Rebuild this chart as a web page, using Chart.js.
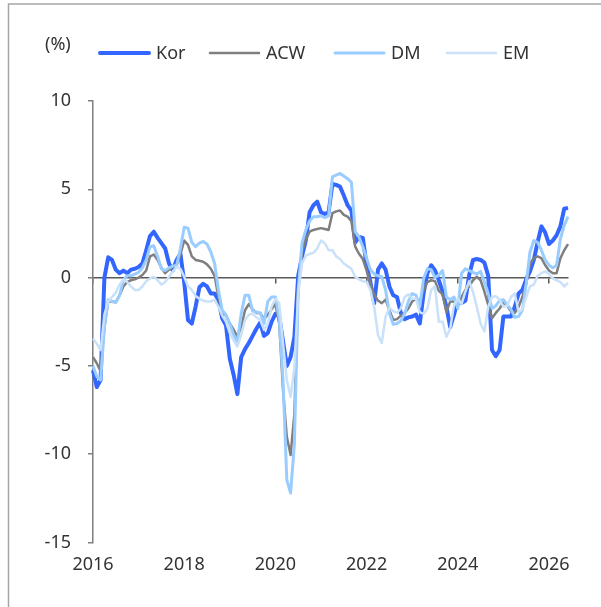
<!DOCTYPE html>
<html>
<head>
<meta charset="utf-8">
<script src="https://cdn.jsdelivr.net/npm/chart.js@4.4.0/dist/chart.umd.min.js"></script>
<style>
  html, body { margin: 0; padding: 0; background: #fff; }
  #wrap { position: relative; width: 601px; height: 607px; }
</style>
</head>
<body>
<div id="wrap"><canvas id="chart"></canvas></div>
<script>
// monthly values, Jan 2016 - Jun 2026 (%)
const kor = [
  -5.25, -6.2, -5.8, 0.0, 1.15, 1.0, 0.45, 0.25, 0.4, 0.25, 0.45, 0.5,
  0.6, 0.8, 1.55, 2.35, 2.6, 2.25, 1.95, 1.65, 0.8, 0.4, 1.0, 1.35,
  -0.25, -2.4, -2.6, -1.65, -0.55, -0.35, -0.5, -0.9, -0.9, -1.27, -2.3, -2.7,
  -4.6, -5.5, -6.6, -4.5, -4.05, -3.7, -3.3, -2.9, -2.55, -3.3, -3.15, -2.5,
  -2.05, -2.2, -3.6, -5.0, -4.5, -3.35, 0.1, 1.2, 2.1, 3.7, 4.1, 4.3,
  3.7, 3.6, 3.7, 5.3, 5.25, 5.15, 4.65, 4.1, 3.8, 2.0, 2.3, 2.25,
  0.7, -0.25, -1.45, 0.45, 0.8, 0.45, -0.5, -1.0, -1.1, -2.0, -2.35, -2.25,
  -2.2, -2.1, -2.6, -0.9, 0.25, 0.7, 0.4, -0.15, -0.8, -1.65, -2.8, -2.1,
  -1.3, -1.45, -1.3, 0.15, 1.0, 1.05, 1.0, 0.85, 0.1, -4.1, -4.45, -4.1,
  -2.2, -2.2, -2.2, -1.65, -0.9, -0.7, -0.1, 0.35, 1.0, 2.0, 2.9, 2.55,
  1.9, 2.1, 2.4, 2.9, 3.9, 3.95
];
const acw = [
  -4.5, -4.85, -5.3, -2.8, -1.35, -1.35, -1.4, -1.0, -0.5, -0.25, -0.15, -0.1,
  0.0, 0.15, 0.4, 1.2, 1.3, 1.0, 0.55, 0.25, 0.45, 0.6, 0.7, 1.3,
  2.1, 1.85, 1.2, 1.0, 0.95, 0.9, 0.75, 0.5, 0.1, -1.1, -1.95, -2.15,
  -2.6, -2.95, -3.35, -2.8, -1.85, -1.5, -1.8, -2.0, -2.0, -2.35, -2.1, -1.8,
  -1.5, -2.6, -6.35, -9.0, -10.05, -7.7, -0.7, 1.45, 2.15, 2.6, 2.7, 2.75,
  2.8, 2.75, 2.7, 3.65, 3.75, 3.8, 3.55, 3.45, 3.2, 1.75, 1.35, 1.05,
  0.4, -0.35, -0.95, -1.3, -1.45, -1.25, -1.85, -2.4, -2.35, -2.15, -2.0, -1.75,
  -1.35, -1.2, -1.35, -0.7, -0.25, -0.15, -0.2, -0.75, -0.95, -1.95, -1.35, -1.35,
  -1.65, -1.1, -0.7, -0.5, -0.15, 0.05, -0.15, -0.8, -1.55, -2.3, -2.0, -1.75,
  -1.4, -1.6, -1.9, -2.0, -1.65, -1.1, -0.35, 0.8, 1.1, 1.2, 1.1, 0.7,
  0.4, 0.25, 0.25, 1.1, 1.55, 1.9
];
const dm = [
  -5.0, -5.6, -5.8, -2.8, -1.25, -1.35, -1.4, -1.0, -0.15, 0.1, 0.1, 0.2,
  0.3, 0.55, 1.0, 1.75, 1.8, 1.2, 0.5, 0.4, 0.55, 0.65, 0.7, 1.65,
  2.85, 2.8, 2.0, 1.75, 1.95, 2.05, 1.9, 1.45, 0.8, -0.7, -1.85, -2.1,
  -2.6, -3.25, -3.65, -2.05, -1.0, -1.0, -1.9, -1.95, -2.0, -2.6, -1.35, -1.1,
  -1.1, -2.3, -5.8, -11.45, -12.2, -9.4, -0.7, 1.95, 2.7, 3.2, 3.45, 3.45,
  3.5, 3.4, 3.5, 5.7, 5.8, 5.9, 5.75, 5.6, 5.4, 2.6, 2.3, 1.75,
  1.1, 0.45, 0.2, 0.1, 0.05, -0.7, -2.0, -2.65, -2.6, -2.45, -2.05, -1.35,
  -0.9, -1.0, -1.65, -0.05, 0.5, 0.45, 0.0, 0.15, 0.4, -1.1, -1.25, -1.1,
  -1.75, 0.25, 0.5, 0.4, 0.3, 0.2, 0.35, -0.25, -0.9, -1.75, -1.6, -1.3,
  -1.25, -1.55, -1.8, -2.25, -2.2, -1.85, -0.35, 1.45, 2.1, 2.0, 1.55, 1.0,
  0.7, 0.55, 0.7, 2.2, 2.95, 3.45
];
const em = [
  -3.45, -3.75, -4.1, -2.1, -1.35, -1.1, -0.85, -0.4, -0.1, -0.25, -0.5, -0.7,
  -0.7, -0.5, -0.2, -0.05, 0.05, -0.15, -0.4, -0.25, 0.05, 0.35, 0.6, 0.5,
  0.05, -0.5, -0.7, -1.05, -1.2, -1.3, -1.35, -1.35, -1.25, -1.65, -2.15, -2.5,
  -3.15, -3.55, -3.9, -3.25, -2.4, -2.1, -2.05, -2.25, -2.4, -2.95, -2.6, -1.65,
  -1.2, -1.45, -3.7, -5.8, -6.75, -5.05, -0.9, 0.8, 1.25, 1.35, 1.4, 1.65,
  2.1, 1.95, 1.55, 1.55, 1.2, 1.05, 0.8, 0.65, 0.5, 0.05, -0.1, -0.2,
  -0.25, -0.7, -1.65, -3.25, -3.7, -2.2, -1.7, -1.9, -2.0, -1.75, -1.1, -0.95,
  -1.2, -1.2, -1.95, -2.05, -1.75, -0.7, -0.5, -2.5, -2.5, -3.35, -2.9, -1.55,
  -1.2, -1.5, -0.8, -0.2, -0.8, -1.65, -2.6, -3.05, -1.65, -1.1, -1.05, -1.25,
  -1.65, -1.6, -1.1, -0.9, -1.95, -1.8, -1.1, -0.5, -0.4, 0.1, 0.25, 0.35,
  0.2, -0.05, -0.15, -0.25, -0.5, -0.3
];
const startYear = 2016;
const yearTicks = ['2016', '2018', '2020', '2022', '2024', '2026'];
const seriesNames = ['Kor', 'ACW', 'DM', 'EM'];

// month categories 'YYYY-MM'
const labels = kor.map((v, i) =>
  (startYear + Math.floor(i / 12)) + '-' + String(i % 12 + 1).padStart(2, '0'));

function yearLabel(i) {
  const [yr, mo] = labels[i].split('-');
  return (mo === '01' && yearTicks.includes(yr)) ? yr : '';
}

const font = { family: "'Noto Sans', 'DejaVu Sans', sans-serif", size: 18 };
const textColor = '#333333';
const legendX = [99, 209, 334, 446];

// frame, unit label and legend drawn by hand
const decor = {
  id: 'decor',
  afterDraw(chart) {
    const ctx = chart.ctx;
    ctx.save();
    ctx.strokeStyle = '#a6a6a6';
    ctx.lineWidth = 1.5;
    ctx.beginPath();
    ctx.moveTo(8.5, 607);
    ctx.lineTo(8.5, 4);
    ctx.lineTo(601, 4);
    ctx.stroke();

    ctx.font = font.size + 'px ' + font.family;
    ctx.fillStyle = textColor;
    ctx.textBaseline = 'middle';
    ctx.fillText('(%)', 45, 45);

    ctx.lineCap = 'round';
    chart.data.datasets.forEach((ds, i) => {
      const x = legendX[i];
      ctx.strokeStyle = ds.borderColor;
      ctx.lineWidth = ds.borderWidth;
      ctx.beginPath();
      ctx.moveTo(x + 1, 53);
      ctx.lineTo(x + 50, 53);
      ctx.stroke();
      ctx.fillText(ds.label, x + 57, 54);
    });
    ctx.restore();
  }
};

function line(label, data, color, width, order) {
  return {
    label: label,
    data: data,
    borderColor: color,
    backgroundColor: color,
    borderWidth: width,
    pointRadius: 0,
    tension: 0,
    borderJoinStyle: 'round',
    order: order
  };
}

const chart = new Chart(document.getElementById('chart'), {
  type: 'line',
  data: {
    labels: labels,
    datasets: [
      line(seriesNames[0], kor, '#3366ff', 4, 4),
      line(seriesNames[1], acw, '#7f7f7f', 2.5, 3),
      line(seriesNames[2], dm, '#99ccff', 3, 2),
      line(seriesNames[3], em, '#c9e1f9', 2.5, 1)
    ]
  },
  options: {
    responsive: true,
    maintainAspectRatio: false,
    animation: false,
    layout: { padding: { left: 40, top: 90, right: 33, bottom: 30 } },
    plugins: {
      legend: { display: false },
      tooltip: { enabled: false }
    },
    scales: {
      x: {
        type: 'category',
        position: 'bottom',
        grid: { display: false, drawTicks: false },
        border: { display: false },
        ticks: {
          autoSkip: false,
          maxRotation: 0,
          color: textColor,
          font: font,
          padding: 12,
          callback: (v, i) => yearLabel(i)
        }
      },
      x0: {
        type: 'category',
        position: { y: 0 },
        grid: {
          drawOnChartArea: false,
          tickLength: 5,
          color: '#595959',
          lineWidth: ctx => yearLabel(ctx.index) ? 1.5 : 0
        },
        border: { color: '#595959', width: 1.5 },
        ticks: { display: false, autoSkip: false }
      },
      y: {
        min: -15,
        max: 10,
        ticks: { stepSize: 5, color: textColor, font: font, padding: 17 },
        grid: { drawOnChartArea: false, tickLength: 5, color: '#7f7f7f', lineWidth: 1.5 },
        border: { color: '#7f7f7f', width: 1.5 }
      }
    }
  },
  plugins: [decor]
});

// nudge the padding so the plot area lands where the original one is
const target = { left: 93, top: 101, right: 568, bottom: 542.5 };
const area = chart.chartArea;
const pad = chart.options.layout.padding;
chart.options.layout.padding = {
  left: pad.left + (target.left - area.left),
  top: pad.top + (target.top - area.top),
  right: pad.right + (area.right - target.right),
  bottom: pad.bottom + (area.bottom - target.bottom)
};
chart.update('none');
</script>
</body>
</html>
